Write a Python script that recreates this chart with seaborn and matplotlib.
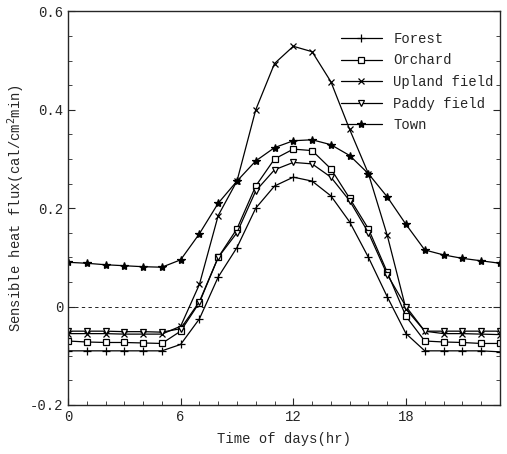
import pandas as pd
import seaborn as sns
import matplotlib.pyplot as plt
from matplotlib.ticker import MultipleLocator

hours = list(range(24))
sites = ["Forest", "Orchard", "Upland field", "Paddy field", "Town"]

forest = [-0.09, -0.09, -0.09, -0.09, -0.09, -0.09, -0.077, -0.025, 0.06, 0.12,
          0.20, 0.245, 0.263, 0.255, 0.225, 0.172, 0.10, 0.02, -0.055, -0.09,
          -0.09, -0.09, -0.09, -0.092]
orchard = [-0.07, -0.072, -0.073, -0.073, -0.074, -0.075, -0.05, 0.008, 0.10, 0.158,
           0.245, 0.30, 0.32, 0.317, 0.28, 0.22, 0.158, 0.07, -0.02, -0.07,
           -0.072, -0.073, -0.075, -0.075]
upland = [-0.055, -0.055, -0.055, -0.056, -0.056, -0.056, -0.04, 0.045, 0.185, 0.255,
          0.40, 0.494, 0.529, 0.518, 0.457, 0.36, 0.27, 0.145, -0.005, -0.05,
          -0.055, -0.055, -0.056, -0.057]
paddy = [-0.05, -0.05, -0.05, -0.051, -0.051, -0.052, -0.045, 0.01, 0.10, 0.15,
         0.235, 0.278, 0.293, 0.29, 0.263, 0.215, 0.15, 0.065, 0.0, -0.05,
         -0.05, -0.05, -0.05, -0.05]
town = [0.09, 0.088, 0.085, 0.083, 0.081, 0.08, 0.095, 0.148, 0.21, 0.255,
        0.296, 0.323, 0.337, 0.339, 0.329, 0.307, 0.27, 0.223, 0.167, 0.115,
        0.105, 0.098, 0.093, 0.088]

values = [forest, orchard, upland, paddy, town]
rows = []
for site, vals in zip(sites, values):
    for h, v in zip(hours, vals):
        rows.append({"Hour": h, "Flux": v, "Site": site})
df = pd.DataFrame(rows)

sns.set_style("ticks")
plt.rcParams["font.family"] = ["Liberation Mono", "DejaVu Sans Mono"]

# marker, face colour, size
styles = {
    "Forest": ("+", "black", 6),
    "Orchard": ("s", "white", 5),
    "Upland field": ("x", "black", 4.5),
    "Paddy field": ("v", "white", 5),
    "Town": ("*", "black", 6),
}

fig, ax = plt.subplots(figsize=(5.07, 4.54), dpi=100)
fig.subplots_adjust(left=0.134, right=0.986, top=0.975, bottom=0.108)

for site in sites:
    m, fc, ms = styles[site]
    sns.lineplot(data=df[df["Site"] == site], x="Hour", y="Flux", ax=ax,
                 color="black", linewidth=0.9, marker=m, markersize=ms,
                 markerfacecolor=fc, markeredgecolor="black", markeredgewidth=0.9,
                 label=site)

ax.axhline(0, color="black", linestyle=(0, (4, 4)), linewidth=0.6, zorder=0)

ax.set_xlim(0, 23)
ax.set_ylim(-0.2, 0.6)
ax.set_xticks([0, 6, 12, 18])
ax.xaxis.set_minor_locator(MultipleLocator(1))
ax.set_yticks([-0.2, 0, 0.2, 0.4, 0.6])
ax.set_yticklabels(["-0.2", "0", "0.2", "0.4", "0.6"])
ax.yaxis.set_minor_locator(MultipleLocator(0.05))
ax.tick_params(which="both", direction="in", right=True, labelsize=10)
ax.tick_params(which="major", length=5)
ax.tick_params(which="minor", length=3)
for s in ax.spines.values():
    s.set_linewidth(1.0)

ax.set_xlabel("Time of days(hr)", fontsize=10, labelpad=6)
ax.set_ylabel("Sensible heat flux(cal/cm$^2$min)", fontsize=10)
ax.yaxis.set_label_coords(-0.094, 0.5)

ax.legend(loc="upper right", bbox_to_anchor=(1.015, 0.98), frameon=False,
          fontsize=10, handlelength=3.0, labelspacing=0.55, handletextpad=0.8)

plt.savefig("out.png", dpi=100)
